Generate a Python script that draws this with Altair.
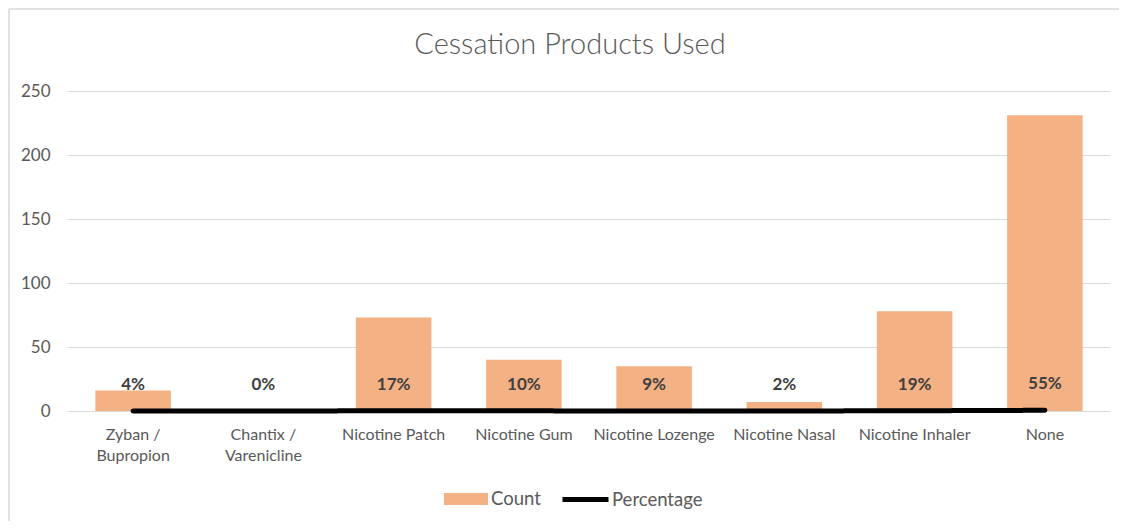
import altair as alt
import pandas as pd

categories = ["Zyban / Bupropion", "Chantix / Varenicline", "Nicotine Patch", "Nicotine Gum",
              "Nicotine Lozenge", "Nicotine Nasal", "Nicotine Inhaler", "None"]
counts = [16, 0, 73, 40, 35, 7, 78, 231]
percentages = [0.04, 0.00, 0.17, 0.10, 0.09, 0.02, 0.19, 0.55]
y_ticks = [0, 50, 100, 150, 200, 250]

df = pd.DataFrame({"category": categories, "count": counts, "pct": percentages})

FONT = "Lato"
GREY = "#595959"
BAR = "#F4B183"

x_enc = alt.X(
    "category:N", sort=categories, title=None,
    scale=alt.Scale(paddingInner=0.42, paddingOuter=0.21),
    axis=alt.Axis(labelAngle=0, labelFontSize=16, labelColor=GREY, labelPadding=15,
                  ticks=False, domain=False, labelLineHeight=21, labelBaseline="top",
                  labelExpr="indexof(datum.label, ' / ') > 0 ? [split(datum.label, ' / ')[0] + ' /', split(datum.label, ' / ')[1]] : datum.label"),
)

y_scale = alt.Scale(domain=[0, 250], nice=False)

base = alt.Chart(df)

bars = base.mark_bar().transform_calculate(series="'Count'").encode(
    x=x_enc,
    y=alt.Y("count:Q", title=None, scale=y_scale,
            axis=alt.Axis(values=y_ticks, labelFontSize=17, labelColor=GREY, labelPadding=18,
                          domain=False, ticks=False, gridColor="#D9D9D9", gridWidth=1.2)),
    color=alt.Color(
        "series:N", scale=alt.Scale(domain=["Count"], range=[BAR]),
        legend=alt.Legend(orient="none", legendX=376, legendY=386, title=None, padding=0,
                          symbolType="M-1,-0.27H1V0.27H-1Z", symbolSize=1936,
                          symbolStrokeWidth=0, symbolOpacity=1,
                          labelFontSize=18.5, labelColor=GREY, labelOffset=3, labelFont=FONT),
    ),
)

line = base.mark_line(strokeWidth=5, strokeCap="round", color="#000000").transform_calculate(
    series2="'Percentage'"
).encode(
    x=x_enc,
    y=alt.Y("pct:Q", scale=y_scale),
    strokeDash=alt.StrokeDash(
        "series2:N", scale=alt.Scale(domain=["Percentage"], range=[[1, 0]]),
        legend=alt.Legend(orient="none", legendX=492, legendY=383, title=None, padding=0,
                          symbolType="stroke", symbolSize=2116, symbolStrokeWidth=5,
                          symbolStrokeColor="#000000",
                          labelFontSize=18.5, labelColor=GREY, labelOffset=1, labelFont=FONT),
    ),
)

labels = base.mark_text(fontWeight="bold", fontSize=17, dy=-26, color="#404040",
                        baseline="middle", font=FONT).encode(
    x=x_enc,
    y=alt.Y("pct:Q", scale=y_scale),
    text=alt.Text("pct:Q", format=".0%"),
)

frame_df = pd.DataFrame({"a": [0]})
border_top = alt.Chart(frame_df).mark_rule(color="#D9D9D9", strokeWidth=1.5).encode(
    x=alt.value(-59), x2=alt.value(3000), y=alt.value(-82))
border_left = alt.Chart(frame_df).mark_rule(color="#D9D9D9", strokeWidth=1.5).encode(
    x=alt.value(-59), y=alt.value(-82), y2=alt.value(3000))

chart = alt.layer(border_top, border_left, bars, line, labels).properties(
    width=1042, height=320,
    autosize=alt.AutoSizeParams(type="none"),
    padding={"left": 60, "top": 83, "right": 9, "bottom": 110},
    title=alt.TitleParams("Cessation Products Used", fontSize=29, font=FONT, fontWeight=300,
                          color=GREY, anchor="middle", frame="group", offset=-75, dx=-19,
                          baseline="alphabetic"),
).configure(font=FONT).configure_view(stroke=None)

chart.save("out.html", embed_options={"renderer": "svg", "actions": False})
